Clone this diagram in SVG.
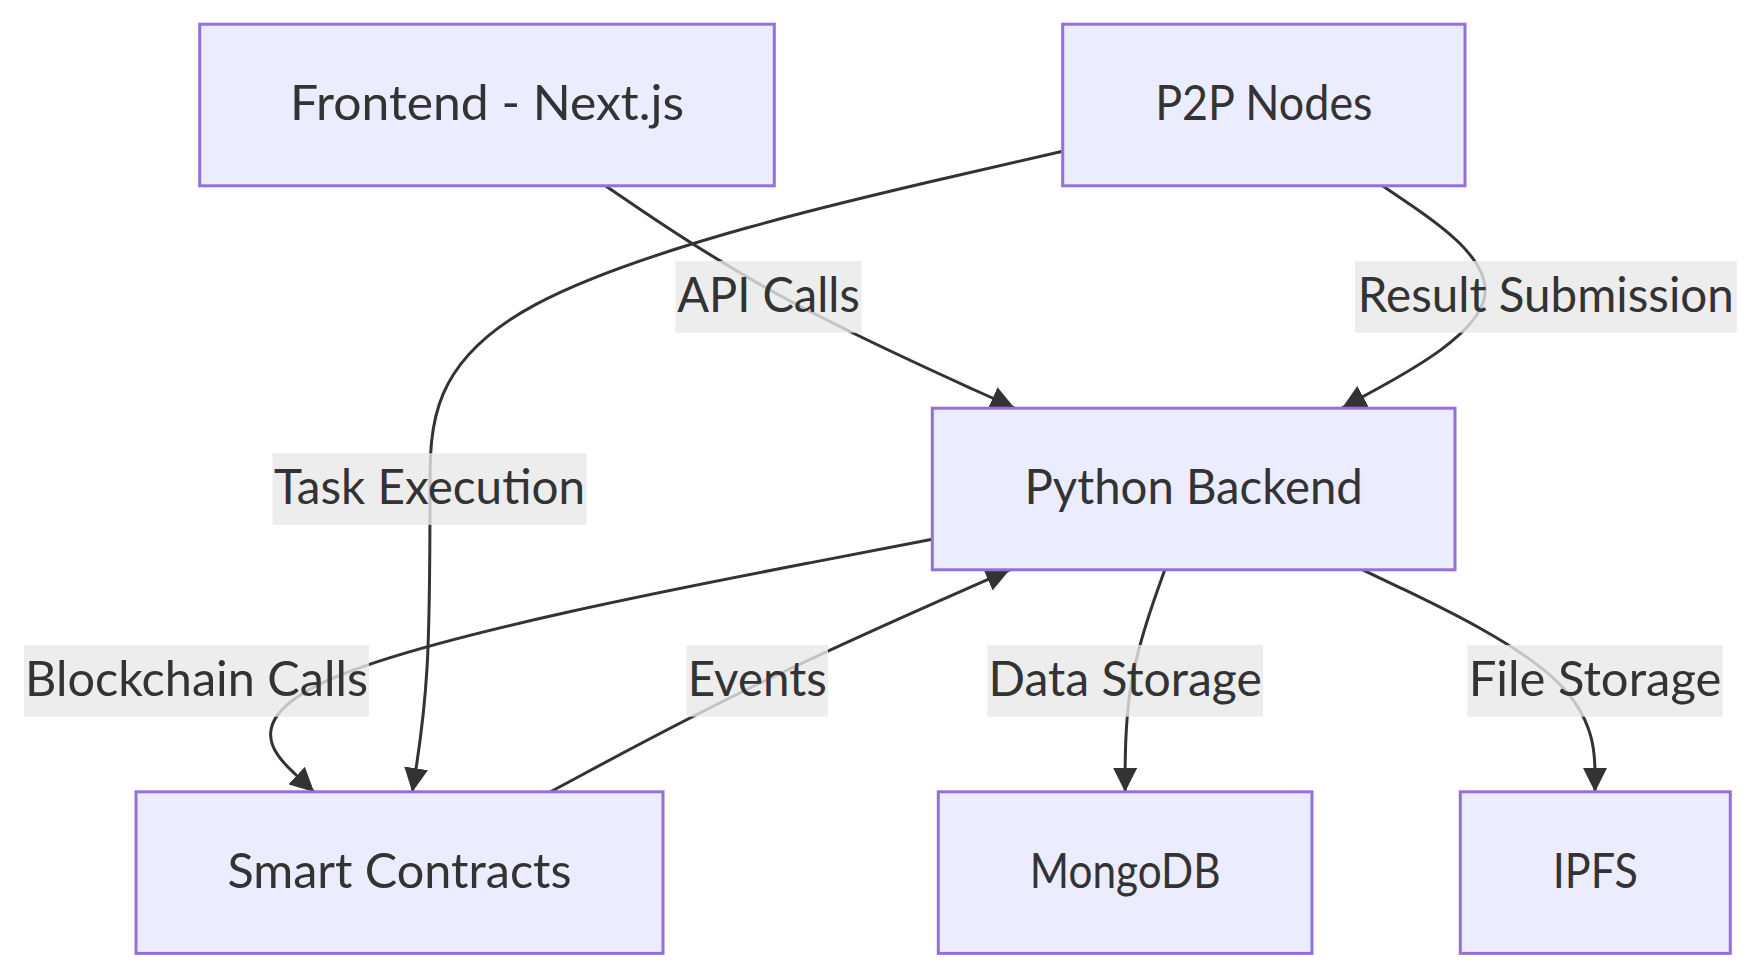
<svg xmlns="http://www.w3.org/2000/svg" width="1759" height="978" viewBox="0 0 1759 978">
<style>
  .node rect { fill: #ECECFF; stroke: #9370DB; stroke-width: 3; }
  .node text, .elabel text { font-family: Lato, "DejaVu Sans", sans-serif; font-size: 47.5px; fill: #333333; text-anchor: middle; }
  .edge { fill: none; stroke: #333333; stroke-width: 3; marker-end: url(#arrow); }
  .elabel rect { fill: #e8e8e8; fill-opacity: 0.8; }
</style>
<defs>
  <marker id="arrow" viewBox="0 0 10 10" refX="10" refY="5" markerUnits="userSpaceOnUse" markerWidth="24" markerHeight="24" orient="auto">
    <path d="M0,0 L10,5 L0,10 z" fill="#333333"/>
  </marker>
</defs>
<rect x="0" y="0" width="1759" height="978" fill="#ffffff"/>
<g id="connectors">
  <path id="e-api" class="edge" d="M605.4,185.7 L632.6,204.2 C659.8,222.7 714.1,259.8 782.3,296.8 C850.5,333.9 932.5,370.9 973.5,389.5 L1014.5,408"/>
  <path id="e-result" class="edge" d="M1382.5,185.7 L1409.7,204.2 C1436.9,222.7 1491.4,259.8 1484.6,296.8 C1477.9,333.9 1409.9,370.9 1376,389.5 L1342,408"/>
  <path id="e-task" class="edge" d="M1062.7,151.3 L957.25,175.55 C851.8,199.8 640.9,248.3 535.45,304.6 C430,360.9 430,424.9 430,488.9 C430,552.9 430,616.9 427.05,667.4 C424.1,717.9 418.2,754.9 415.25,773.5 L412.3,792"/>
  <path id="e-chain" class="edge" d="M932.3,539.3 L809.7,562.9 C687,586.5 441.8,633.6 338.7,675.75 C235.7,717.9 274.9,754.9 294.5,773.5 L314.1,792"/>
  <path id="e-events" class="edge" d="M550.1,792 L584.6,773.5 C619.15,754.9 688.2,717.9 764.8,680.8 C841.4,643.8 925.6,606.8 967.7,588.3 L1009.75,569.8"/>
  <path id="e-data" class="edge" d="M1164.8,569.8 L1158.2,588.3 C1151.6,606.8 1138.4,643.8 1131.8,680.8 C1125.15,717.9 1125.15,754.9 1125.15,773.5 L1125.15,792"/>
  <path id="e-file" class="edge" d="M1362.7,569.8 L1401.4,588.3 C1440.1,606.8 1517.6,643.8 1556.3,680.8 C1595,717.9 1595,754.9 1595,773.5 L1595,792"/>
</g>
<g id="edge-labels">
  <g class="elabel" id="l-api"><rect x="675.3" y="261" width="186.4" height="71.7"/><text x="768.5" y="311.8" textLength="182.6" lengthAdjust="spacingAndGlyphs">API Calls</text></g>
  <g class="elabel" id="l-result"><rect x="1355" y="261" width="381.7" height="71.7"/><text x="1545.8" y="311.8" textLength="376" lengthAdjust="spacingAndGlyphs">Result Submission</text></g>
  <g class="elabel" id="l-task"><rect x="272.6" y="453.2" width="314" height="71.7"/><text x="429.6" y="504" textLength="311" lengthAdjust="spacingAndGlyphs">Task Execution</text></g>
  <g class="elabel" id="l-chain"><rect x="24" y="645" width="345" height="71.7"/><text x="196.5" y="695.6" textLength="343" lengthAdjust="spacingAndGlyphs">Blockchain Calls</text></g>
  <g class="elabel" id="l-events"><rect x="686.5" y="645" width="141.5" height="71.7"/><text x="757.25" y="695.6" textLength="139" lengthAdjust="spacingAndGlyphs">Events</text></g>
  <g class="elabel" id="l-data"><rect x="987.3" y="645" width="275.7" height="71.7"/><text x="1125.15" y="695.6" textLength="273.3" lengthAdjust="spacingAndGlyphs">Data Storage</text></g>
  <g class="elabel" id="l-file"><rect x="1467.3" y="645" width="255.4" height="71.7"/><text x="1595" y="695.6" textLength="252.7" lengthAdjust="spacingAndGlyphs">File Storage</text></g>
</g>
<g id="nodes">
  <g class="node" id="frontend"><rect x="199.7" y="24.2" width="574.6" height="161.6"/><text x="487" y="120" textLength="394" lengthAdjust="spacingAndGlyphs">Frontend - Next.js</text></g>
  <g class="node" id="p2p"><rect x="1062.7" y="24.2" width="402.3" height="161.6"/><text x="1263.85" y="120" textLength="217.4" lengthAdjust="spacingAndGlyphs">P2P Nodes</text></g>
  <g class="node" id="backend"><rect x="932.3" y="408.2" width="522.7" height="161.6"/><text x="1193.6" y="504" textLength="338.4" lengthAdjust="spacingAndGlyphs">Python Backend</text></g>
  <g class="node" id="contracts"><rect x="136" y="791.8" width="527" height="161.6"/><text x="399.5" y="887.7" textLength="344" lengthAdjust="spacingAndGlyphs">Smart Contracts</text></g>
  <g class="node" id="mongodb"><rect x="938.3" y="791.8" width="373.7" height="161.6"/><text x="1125.15" y="887.7" textLength="190.7" lengthAdjust="spacingAndGlyphs">MongoDB</text></g>
  <g class="node" id="ipfs"><rect x="1460.3" y="791.8" width="270" height="161.6"/><text x="1595.3" y="887.7" textLength="85" lengthAdjust="spacingAndGlyphs">IPFS</text></g>
</g>
</svg>
